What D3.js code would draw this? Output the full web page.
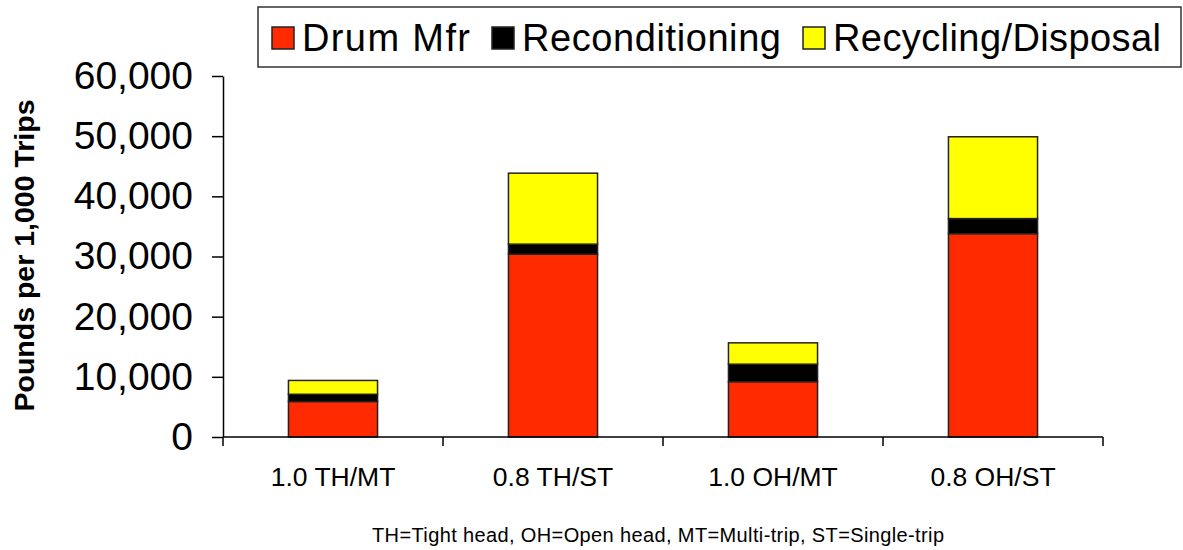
<!DOCTYPE html>
<html>
<head>
<meta charset="utf-8">
<script src="https://cdn.jsdelivr.net/npm/d3@7"></script>
<style>
  html, body { margin: 0; padding: 0; background: #fff; }
  svg { display: block; }
  text { font-family: "Liberation Sans", Arial, sans-serif; fill: #000; }
</style>
</head>
<body>
<svg id="chart" width="1183" height="550"></svg>
<script>
// ---- data ----
const categories = ["1.0 TH/MT", "0.8 TH/ST", "1.0 OH/MT", "0.8 OH/ST"];
const seriesNames = ["Drum Mfr", "Reconditioning", "Recycling/Disposal"];
const drumMfr = [5900, 30400, 9200, 33800];
const reconditioning = [1200, 1650, 2900, 2500];
const recyclingDisposal = [2300, 11800, 3550, 13600];
const yTicks = [0, 10000, 20000, 30000, 40000, 50000, 60000];
const seriesColors = ["#FF2A00", "#000000", "#FFFF00"];
const yTitle = "Pounds per 1,000 Trips";
const footnote = "TH=Tight head, OH=Open head, MT=Multi-trip, ST=Single-trip";

// ---- layout ----
const svg = d3.select("#chart");
const plotLeft = 223, plotRight = 1103, plotTop = 76, plotBottom = 437;

const rows = categories.map((c, i) => ({
  cat: c,
  "Drum Mfr": drumMfr[i],
  "Reconditioning": reconditioning[i],
  "Recycling/Disposal": recyclingDisposal[i]
}));
const stacked = d3.stack().keys(seriesNames)(rows);

const x = d3.scaleBand().domain(categories).range([plotLeft, plotRight])
  .paddingInner(0.595).paddingOuter(0.2975);
const y = d3.scaleLinear().domain([0, 60000]).range([plotBottom, plotTop]);
const color = d3.scaleOrdinal().domain(seriesNames).range(seriesColors);

// bars
svg.append("g").selectAll("g").data(stacked).join("g")
  .attr("fill", d => color(d.key))
  .selectAll("rect").data(d => d).join("rect")
  .attr("x", d => x(d.data.cat))
  .attr("width", x.bandwidth())
  .attr("y", d => y(d[1]))
  .attr("height", d => y(d[0]) - y(d[1]))
  .attr("stroke", "#222")
  .attr("stroke-width", 1.5);

// y axis
const yAxis = svg.append("g").attr("transform", `translate(${plotLeft},0)`)
  .call(d3.axisLeft(y).tickValues(yTicks).tickFormat(d3.format(",")).tickSize(11).tickSizeOuter(0).tickPadding(19));
yAxis.select(".domain").attr("stroke", "#000").attr("stroke-width", 1.5);
yAxis.selectAll(".tick line").attr("stroke", "#000").attr("stroke-width", 1.5);
yAxis.selectAll(".tick text").style("font-size", "39px").attr("fill", "#000")
  .style("font-family", "'Liberation Sans', Arial, sans-serif");

// x axis (category boundaries as ticks)
const step = x.step();
const boundaries = categories.map(c => x(c) + x.bandwidth() / 2 - step / 2);
boundaries.push(x(categories[categories.length - 1]) + x.bandwidth() / 2 + step / 2);
const xg = svg.append("g");
xg.append("line").attr("x1", plotLeft).attr("x2", plotRight).attr("y1", plotBottom).attr("y2", plotBottom)
  .attr("stroke", "#000").attr("stroke-width", 1.5);
xg.selectAll("line.tk").data(boundaries).join("line").attr("class", "tk")
  .attr("x1", d => d).attr("x2", d => d).attr("y1", plotBottom).attr("y2", plotBottom + 9)
  .attr("stroke", "#000").attr("stroke-width", 1.5);
xg.selectAll("text").data(categories).join("text")
  .attr("x", d => x(d) + x.bandwidth() / 2)
  .attr("y", plotBottom + 49)
  .attr("text-anchor", "middle")
  .style("font-size", "26.5px")
  .attr("fill", "#222")
  .text(d => d);

// y title
svg.append("text")
  .attr("transform", `translate(34,${(plotTop + plotBottom) / 2 - 1}) rotate(-90)`)
  .attr("text-anchor", "middle")
  .style("font-size", "28.5px")
  .style("font-weight", "bold")
  .text(yTitle);

// footnote
svg.append("text")
  .attr("x", 658).attr("y", 542)
  .attr("text-anchor", "middle")
  .style("font-size", "20px")
  .attr("textLength", 572)
  .attr("lengthAdjust", "spacing")
  .text(footnote);

// legend
const legendTextWidths = [168, 259, 328];
const leg = svg.append("g");
leg.append("rect").attr("x", 258).attr("y", 7).attr("width", 923).attr("height", 60)
  .attr("fill", "#fff").attr("stroke", "#333").attr("stroke-width", 1.5);
let lx = 272;
seriesNames.forEach((name, i) => {
  leg.append("rect").attr("x", lx).attr("y", 27).attr("width", 22).attr("height", 22)
    .attr("fill", color(name)).attr("stroke", "#222").attr("stroke-width", 1.5);
  leg.append("text").attr("x", lx + 30).attr("y", 51)
    .style("font-size", "38px")
    .attr("textLength", legendTextWidths[i])
    .attr("lengthAdjust", "spacing")
    .text(name);
  lx = lx + 30 + legendTextWidths[i] + 22;
});
</script>
</body>
</html>
